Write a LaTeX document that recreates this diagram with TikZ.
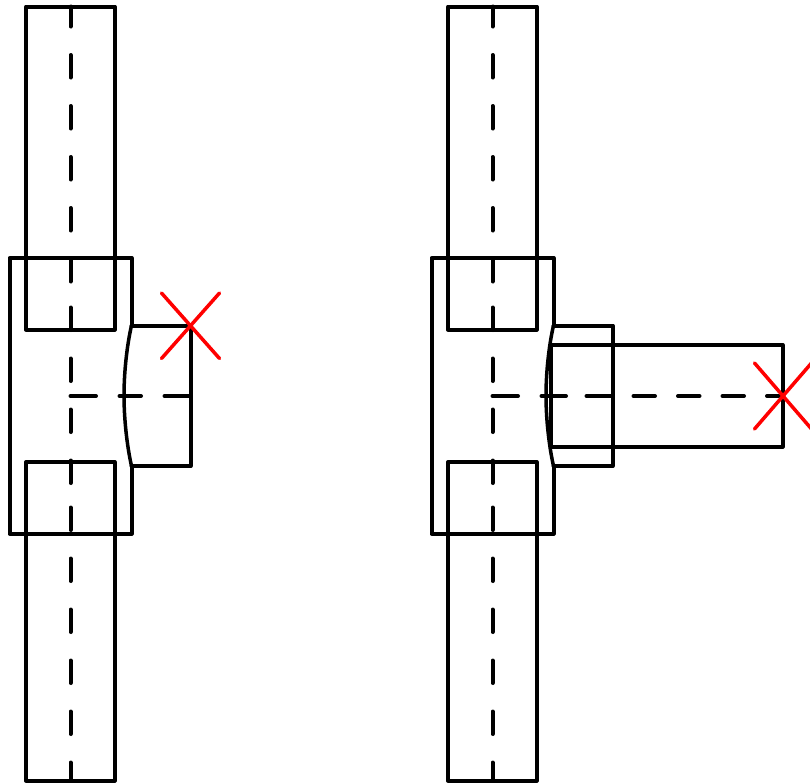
\documentclass[tikz,border=0pt]{standalone}
\usepackage{amsmath}
\tikzset{
  pipeline/.style={draw=black,line width=4pt,line join=round,line cap=round},
  centerline/.style={draw=black,line width=4pt,line cap=round},
  vertdash/.style={centerline,dash pattern=on 22.5pt off 28.5pt},
  redcross/.style={draw=red,line width=3.5pt,line cap=round}
}
\begin{document}
\begin{tikzpicture}[x=1pt,y=-1pt]
    \clip (0,0) rectangle (810,782);
    \foreach \dx in {0,422} {
      \begin{scope}[xshift=\dx pt]
        \draw[pipeline] (26,329.5) -- (26,6.5) -- (114.5,6.5) -- (114.5,329.5) -- cycle;
        \draw[pipeline] (26,462) -- (26,780.5) -- (114.5,780.5) -- (114.5,462) -- cycle;
        \draw[pipeline] (131.5,325.5) -- (131.5,258) -- (9.5,258) -- (9.5,533.5) -- (131.5,533.5) -- (131.5,466);
        \draw[pipeline,line width=3.5pt] (131.5,325.5) .. controls (127,345) and (124,372) .. (124,395.5)
          .. controls (124,419) and (127,446) .. (131.5,466);
        \draw[vertdash,dash phase=2.5pt] (70.5,6.5) -- (70.5,282);
        \draw[vertdash] (70.5,307.5) -- (70.5,484);
        \draw[vertdash] (70.5,507.5) -- (70.5,781);
        \draw[centerline,dash pattern=on 25.5pt off 23.5pt on 21.5pt off 23.5pt] (70.5,396) -- (190.5,396);
      \end{scope}
    }

    % short branch
    \draw[pipeline] (131.5,325.5) -- (190.5,325.5) -- (190.5,466) -- (131.5,466);
    \draw[redcross] (161.5,293) -- (219.5,358.5);
    \draw[redcross] (219.5,293) -- (161.5,358.5);

    % long branch
    \draw[pipeline] (553.5,325.5) -- (612.5,325.5) -- (612.5,466) -- (553.5,466);
    \draw[pipeline] (550.5,345) rectangle (782.5,446.5);
    \draw[centerline,dash pattern=on 21.5pt off 23pt,dash phase=6pt] (782.5,396) -- (550.5,396);
    \draw[redcross] (754.5,363) -- (811.5,429);
    \draw[redcross] (811.5,363) -- (754.5,429);
\end{tikzpicture}
\end{document}
